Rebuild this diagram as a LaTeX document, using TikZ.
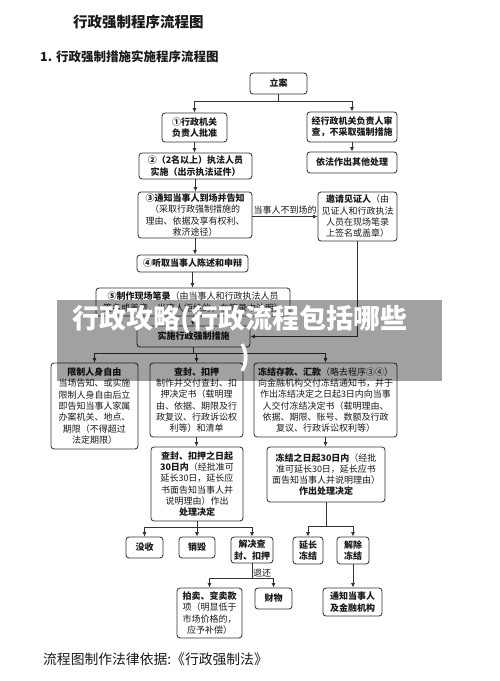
\documentclass[tikz,border=0pt]{standalone}
\usepackage{fontspec}
\setmainfont{Noto Sans CJK SC}
\usetikzlibrary{arrows.meta,calc}
\definecolor{lncol}{HTML}{333333}
\definecolor{txcol}{HTML}{1a1a1a}
\newcommand\mybox[6]{\node[box,minimum width={#4-#2},minimum height={#5-#3}] (#1) at ({(#2+#4)/2},{(#3+#5)/2}) {#6};}
\begin{document}
\begin{tikzpicture}[x=1pt,y=-1pt,
  box/.style={draw=lncol,line width=0.85pt,rounded corners=3pt,fill=white,align=center,inner sep=0pt,text=txcol,font=\fontsize{9}{11.3}\selectfont},
  conn/.style={draw=lncol,line width=0.8pt},
  arr/.style={conn,-{Latex[length=4.5pt,width=4pt]}},
  lbl/.style={text=txcol,font=\fontsize{9}{11}\selectfont,inner sep=1.5pt},
  ]
\useasboundingbox[fill=white] (0,0) rectangle (500,681);

% titles
\node[anchor=west,text=txcol,inner sep=0,font=\bfseries\fontsize{14.5}{16}\selectfont] (t1) at (73,22) {行政强制程序流程图};
\node[anchor=west,text=txcol,inner sep=0,font=\bfseries\fontsize{12.5}{14}\selectfont] (t2) at (40,57) {1. 行政强制措施实施程序流程图};
\node[anchor=west,text=txcol,inner sep=0,font=\fontsize{13.8}{15}\selectfont] (t3) at (43,659) {流程图制作法律依据:《行政强制法》};

% boxes
\mybox{la}{250}{73}{307}{94}{\textbf{立案}}
\mybox{b1}{162}{113}{227}{142}{\textbf{①行政机关}\\\textbf{负责人批准}}
\mybox{r1}{307}{112}{397}{142}{\textbf{经行政机关负责人审}\\\textbf{查，不采取强制措施}}
\mybox{r2}{307}{152}{397}{173}{\textbf{依法作出其他处理}}
\mybox{b2}{139}{153}{252}{179}{\textbf{②（2名以上）执法人员}\\\textbf{实施（出示执法证件）}}
\mybox{b3}{138}{192}{252}{238}{\textbf{③通知当事人到场并告知}\\（采取行政强制措施的\\理由、依据及享有权利、\\救济途径）}
\mybox{yq}{318}{192}{397}{241}{\textbf{邀请见证人}（由\\见证人和行政执法\\人员在现场笔录\\上签名或盖章）}
\mybox{b4}{137}{255}{248}{272}{\textbf{④听取当事人陈述和申辩}}
\mybox{b5}{96}{288}{290}{316}{\textbf{⑤制作现场笔录}（由当事人和行政执法人员\\签名或盖章，当事人拒绝的，在笔录中注明）}
\mybox{ss}{137}{326}{250}{347}{\textbf{实施行政强制措施}}
\mybox{xz}{51}{363}{138}{449}{\textbf{限制人身自由}\\当场告知、或实施\\限制人身自由后立\\即告知当事人家属\\办案机关、地点、\\期限（不得超过\\法定期限）}
\mybox{cf}{150}{363}{243}{437}{\textbf{查封、扣押}\\制作并交付查封、扣\\押决定书（载明理\\由、依据、期限及行\\政复议、行政诉讼权\\利等）和清单}
\mybox{dj}{254}{363}{397}{437}{\textbf{冻结存款、汇款}（略去程序③④）\\向金融机构交付冻结通知书，并于\\作出冻结决定之日起3日内向当事\\人交付冻结决定书（载明理由、\\依据、期限、账号、数额及行政\\复议、行政诉讼权利等）}
\mybox{cfr}{151}{447}{243}{521}{\textbf{查封、扣押之日起}\\\textbf{30日内}（经批准可\\延长30日，延长应\\书面告知当事人并\\说明理由）作出\\\textbf{处理决定}}
\mybox{djr}{267}{447}{385}{502}{\textbf{冻结之日起30日内}（经批\\准可延长30日，延长应书\\面告知当事人并说明理由）\\\textbf{作出处理决定}}
\mybox{ms}{126}{537}{163}{558}{\textbf{没收}}
\mybox{xh}{179}{537}{215}{558}{\textbf{销毁}}
\mybox{jj}{231}{537}{273}{563}{\textbf{解决查}\\\textbf{封、扣押}}
\mybox{pm}{177}{588}{242}{638}{\textbf{拍卖、变卖款}\\项（明显低于\\市场价格的，\\应予补偿）}
\mybox{cw}{255}{588}{292}{609}{\textbf{财物}}
\mybox{yc}{293}{537}{323}{564}{\textbf{延长}\\\textbf{冻结}}
\mybox{jc}{337}{537}{369}{564}{\textbf{解除}\\\textbf{冻结}}
\mybox{tz}{323}{588}{382}{616}{\textbf{通知当事人}\\\textbf{及金融机构}}

% connectors
\draw[conn] (la.south) -- ++(0,7) coordinate (j0);
\draw[arr] (j0) -| (b1.north);
\draw[arr] (j0) -| (r1.north);
\draw[arr] (b1.south) -- (b1.south |- b2.north);
\draw[arr] (r1.south) -- (r2.north);
\draw[arr] (b2.south) -- (b2.south |- b3.north);
\draw[arr] (b3.south) -- (b3.south |- b4.north);
\draw[arr] (b4.south) -- (b4.south |- b5.north);
\draw[arr] (b5.south) -- (b5.south |- ss.north);
\draw[arr] (b3.east |- yq.west) -- (yq.west) node[lbl,midway,above] (lb1) {当事人不到场的};
\draw[arr] (yq.south) |- (ss.east);
\draw[conn] (ss.south) -- ++(0,6) coordinate (j1);
\draw[arr] (j1) -| (xz.north);
\draw[arr] (j1) -| (cf.north);
\draw[arr] (j1) -| (dj.north);
\draw[arr] (cf.south) -- (cf.south |- cfr.north);
\draw[arr] (dj.south) -- (dj.south |- djr.north);
\draw[conn] (cfr.south) -- ++(0,6) coordinate (j2);
\draw[arr] (j2) -| (ms.north);
\draw[arr] (j2) -| (xh.north);
\draw[arr] (j2) -| (jj.north);
\draw[conn] (jj.south) -- ++(0,15) coordinate (j3);
\draw[arr] (j3) -| (pm.north);
\draw[arr] (j3) -| (cw.north);
\node[lbl,anchor=south west,inner sep=1pt] (lb2) at (j3) {退还};
\draw[conn] (djr.south) -- ++(0,24) coordinate (j4);
\draw[arr] (j4) -| (yc.north);
\draw[arr] (j4) -| (jc.north);
\draw[arr] (jc.south) -- (jc.south |- tz.north);

% watermark band
\fill[black,opacity=0.37] (57,300) rectangle (442,381);
\node[text=white,inner sep=0,font=\bfseries\fontsize{27}{30}\selectfont] (wm1) at (240,320) {行政攻略(行政流程包括哪些};
\node[text=white,inner sep=0,font=\bfseries\fontsize{27}{30}\selectfont] (wm2) at (245,358) {)};
\end{tikzpicture}
\end{document}
